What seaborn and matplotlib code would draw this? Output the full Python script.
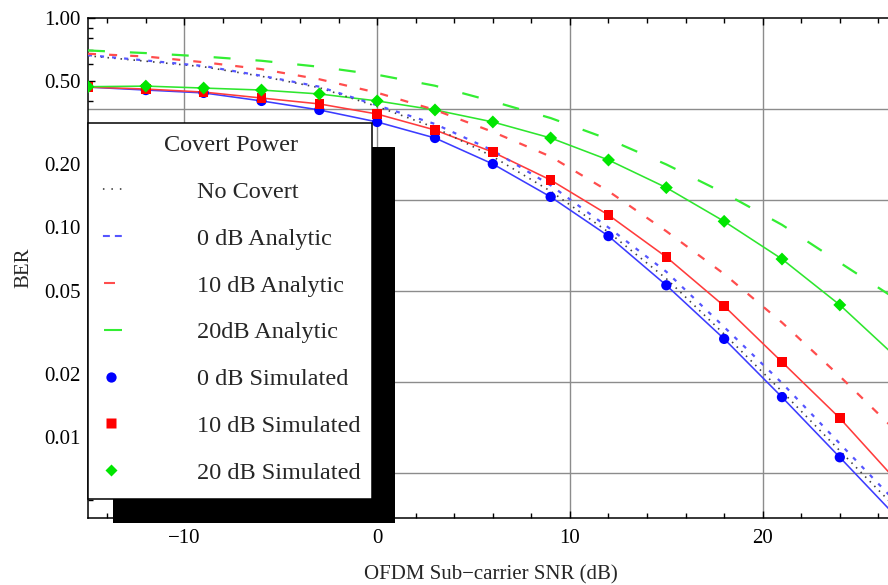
import matplotlib
matplotlib.use("Agg")
import matplotlib.pyplot as plt
from matplotlib.lines import Line2D
from matplotlib.patches import Rectangle
from matplotlib.ticker import FixedLocator, FixedFormatter, NullFormatter
import numpy as np
import seaborn as sns

# ---- data -------------------------------------------------------------
snr_sim = [-15, -12, -9, -6, -3, 0, 3, 6, 9, 12, 15, 18, 21, 24]
ber_sim_0db = [0.468, 0.453, 0.439, 0.402, 0.364, 0.319, 0.2675, 0.201,
               0.140, 0.091, 0.053, 0.0294, 0.0155, 0.0080]
ber_sim_10db = [0.468, 0.458, 0.443, 0.415, 0.389, 0.348, 0.292, 0.229,
                0.1685, 0.1147, 0.0723, 0.0422, 0.0228, 0.0123]
ber_sim_20db = [0.470, 0.473, 0.463, 0.453, 0.434, 0.402, 0.364, 0.319,
                0.2675, 0.210, 0.155, 0.107, 0.0707, 0.0427]

snr_curve = [-15, -12, -9, -6, -3, 0, 3, 6, 9, 12, 15, 18, 21, 24, 27]
ber_no_covert = [0.660, 0.622, 0.585, 0.527, 0.465, 0.378, 0.300, 0.218,
                 0.149, 0.095, 0.057, 0.031, 0.0165, 0.0086, 0.0045]
ber_ana_0db = [0.665, 0.627, 0.590, 0.530, 0.470, 0.383, 0.312, 0.233,
               0.159, 0.100, 0.0615, 0.0335, 0.0181, 0.0093, 0.0048]
ber_ana_10db = [0.675, 0.655, 0.615, 0.570, 0.510, 0.440, 0.364, 0.286,
                0.218, 0.149, 0.096, 0.060, 0.0352, 0.0195, 0.0105]
ber_ana_20db = [0.700, 0.680, 0.655, 0.625, 0.585, 0.536, 0.475, 0.400,
                0.333, 0.264, 0.200, 0.146, 0.103, 0.068, 0.045]
# smooth curves through the simulated points, carried to the right edge
ber_fit_0db = [0.468, 0.453, 0.439, 0.402, 0.364, 0.319, 0.2675, 0.201,
               0.140, 0.091, 0.053, 0.0294, 0.0155, 0.0080, 0.0041]
ber_fit_10db = [0.468, 0.458, 0.443, 0.415, 0.389, 0.348, 0.292, 0.229,
                0.1685, 0.1147, 0.0723, 0.0422, 0.0228, 0.0123, 0.0061]
ber_fit_20db = [0.470, 0.473, 0.463, 0.453, 0.434, 0.402, 0.364, 0.319,
                0.2675, 0.210, 0.155, 0.107, 0.0707, 0.0427, 0.0237]

legend_labels = ["No Covert", "0 dB Analytic", "10 dB Analytic", "20dB Analytic",
                 "0 dB Simulated", "10 dB Simulated", "20 dB Simulated"]
ytick_values = [1.0, 0.5, 0.2, 0.1, 0.05, 0.02, 0.01]
ytick_labels = ["1.00", "0.50", "0.20", "0.10", "0.05", "0.02", "0.01"]
xtick_values = [-10, 0, 10, 20]
xtick_labels = ["\u221210", "0", "10", "20"]

# ---- style ------------------------------------------------------------
sns.set_style("white")
plt.rcParams["font.family"] = ["Liberation Serif", "DejaVu Serif"]
plt.rcParams["lines.scale_dashes"] = False

BLUE, RED, GREEN = "#0000ff", "#ff0000", "#00e600"
BLUE_L, RED_L, GREEN_L = "#3c3cff", "#ff3c3c", "#2ee62e"
BLUE_D, RED_D, GREEN_D = "#5555ff", "#ff4d4d", "#33ee33"
DOT = "#404040"
GRID = "#8c8c8c"

W, H = 888, 585
fig = plt.figure(figsize=(W / 100, H / 100), dpi=100)
ax = fig.add_axes([88 / W, 1 - 518 / H, 800 / W, 500 / H])
ax.set_yscale("log")
ax.set_xlim(-15, 26.5)
ax.set_ylim(10 ** (-500 / 209.5), 1.0)

# grid: x at the labelled ticks, y at powers of e
for gx in xtick_values:
    ax.axvline(gx, color=GRID, lw=1.0, zorder=0.5)
for k in range(1, 6):
    ax.axhline(np.exp(-k), color=GRID, lw=1.0, zorder=0.5)


def curve(x, y, color, lw, ls, z=2):
    sns.lineplot(x=x, y=y, ax=ax, color=color, lw=lw, linestyle=ls,
                 estimator=None, sort=False, legend=False, zorder=z)


curve(snr_curve, ber_fit_0db, BLUE_L, 1.15, "-")
curve(snr_curve, ber_fit_10db, RED_L, 1.15, "-")
curve(snr_curve, ber_fit_20db, GREEN_L, 1.15, "-")
curve(snr_curve, ber_no_covert, DOT, 1.2, (0, (1.1, 3.6)), 3)
curve(snr_curve, ber_ana_0db, BLUE_D, 1.6, (0, (2.9, 5.8)), 3)
curve(snr_curve, ber_ana_10db, RED_D, 1.6, (0, (5.8, 9.4)), 3)
curve(snr_curve, ber_ana_20db, GREEN_D, 1.6, (0, (12.2, 18.0)), 3)

sns.scatterplot(x=snr_sim, y=ber_sim_0db, ax=ax, marker="o", s=7.4 ** 2,
                color=BLUE, edgecolor="none", zorder=4, legend=False)
sns.scatterplot(x=snr_sim, y=ber_sim_10db, ax=ax, marker="s", s=6.9 ** 2,
                color=RED, edgecolor="none", zorder=4, legend=False)
sns.scatterplot(x=snr_sim, y=ber_sim_20db, ax=ax, marker="D", s=6.6 ** 2,
                color=GREEN, edgecolor="none", zorder=4, legend=False)

# ---- axes frame & ticks ----------------------------------------------
for side in ["left", "top", "bottom"]:
    ax.spines[side].set_color("black")
    ax.spines[side].set_linewidth(1.1)
ax.spines["right"].set_visible(False)

ax.xaxis.set_major_locator(FixedLocator(xtick_values))
ax.xaxis.set_major_formatter(FixedFormatter(xtick_labels))
ax.xaxis.set_minor_locator(FixedLocator([v for v in range(-14, 27, 2)
                                         if v not in xtick_values]))
ax.yaxis.set_major_locator(FixedLocator(ytick_values))
ax.yaxis.set_major_formatter(FixedFormatter(ytick_labels))
y_minor = [0.9, 0.8, 0.7, 0.6, 0.4, 0.3, 0.15, 0.09, 0.08, 0.07, 0.06,
           0.04, 0.03, 0.015, 0.009, 0.008, 0.007, 0.006, 0.005]
ax.yaxis.set_minor_locator(FixedLocator(y_minor))
ax.yaxis.set_minor_formatter(NullFormatter())

ax.tick_params(axis="both", which="both", direction="in", top=True,
               right=False, left=True, bottom=True, colors="black",
               labelsize=15, width=1.0)
ax.tick_params(which="major", length=5)
ax.tick_params(which="minor", length=3.5)
ax.tick_params(axis="y", pad=5.5)
ax.tick_params(axis="x", pad=8)

ax.set_xlabel("OFDM Sub\u2212carrier SNR (dB)", fontsize=15)
ax.set_ylabel("BER", fontsize=15)
ax.xaxis.set_label_coords(0.503, -0.094)
ax.yaxis.set_label_coords(-0.068, 0.5)

# ---- legend box with a solid drop shadow -------------------------------
def px_rect(x0, y0, x1, y1, **kw):
    return Rectangle((x0 / W, 1 - y1 / H), (x1 - x0) / W, (y1 - y0) / H,
                     transform=fig.transFigure, **kw)


fig.add_artist(px_rect(113, 147, 395, 523, facecolor="black",
                       edgecolor="none", zorder=3))
fig.add_artist(px_rect(88, 123, 372, 499, facecolor="white",
                       edgecolor="black", lw=1.1, zorder=4))

handles = [
    Line2D([], [], color=DOT, lw=1.2, linestyle=(4.0, (1.1, 5.0))),
    Line2D([], [], color=BLUE_D, lw=1.5, linestyle=(6.5, (5.0, 3.6))),
    Line2D([], [], color=RED_D, lw=1.5, linestyle=(19.4, (7.9, 14.4))),
    Line2D([], [], color=GREEN_D, lw=1.5, linestyle=(25.2, (13.7, 14.4))),
    Line2D([], [], ls="none", marker="o", ms=7.4, color=BLUE, mec="none"),
    Line2D([], [], ls="none", marker="s", ms=6.9, color=RED, mec="none"),
    Line2D([], [], ls="none", marker="D", ms=6.6, color=GREEN, mec="none"),
]
leg = fig.legend(handles, legend_labels, title="Covert Power",
                 loc="upper left", bbox_to_anchor=(88 / W, 1 - 123 / H),
                 bbox_transform=fig.transFigure, frameon=False,
                 fontsize=17.5, title_fontsize=17.5, handlelength=0.9,
                 handletextpad=3.1, labelspacing=1.02, borderpad=0.5,
                 borderaxespad=0)
leg.set_zorder(5)

fig.savefig("out.png", dpi=100)
